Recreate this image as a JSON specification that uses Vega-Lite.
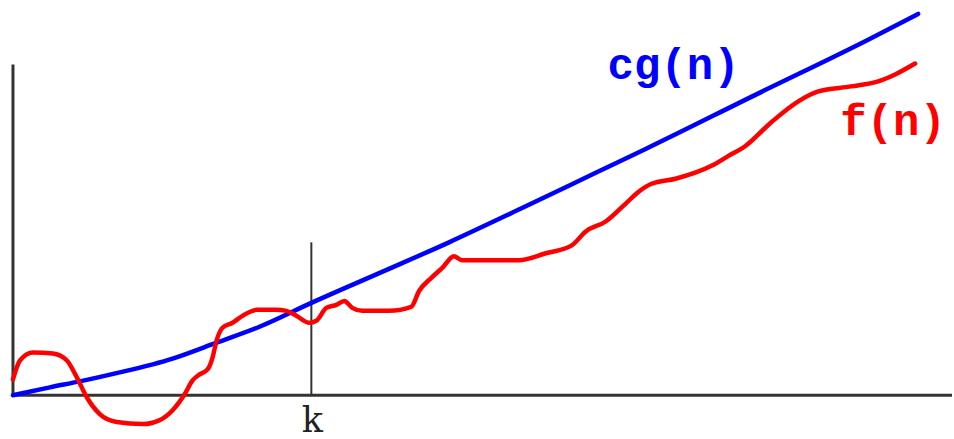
{
  "$schema": "https://vega.github.io/schema/vega-lite/v6.json",
  "width": 954,
  "height": 439,
  "autosize": {"type": "fit", "contains": "padding"},
  "padding": 0,
  "background": "white",
  "config": {"view": {"stroke": null}},
  "layer": [
    {
      "data": {"values": [
        {"x": 13, "y": 333, "x2": 13, "y2": 0},
        {"x": 13, "y": 0, "x2": 954, "y2": 0}
      ]},
      "mark": {"type": "rule", "stroke": "#333333", "strokeWidth": 3},
      "encoding": {
        "x": {"field": "x", "type": "quantitative", "scale": {"domain": [0, 954], "nice": false, "zero": false}, "axis": null},
        "y": {"field": "y", "type": "quantitative", "scale": {"domain": [-41, 398], "nice": false, "zero": false}, "axis": null},
        "x2": {"field": "x2"},
        "y2": {"field": "y2"}
      }
    },
    {
      "data": {"values": [{"x": 312, "y": 0, "y2": 154}]},
      "mark": {"type": "rule", "stroke": "#333333", "strokeWidth": 2},
      "encoding": {
        "x": {"field": "x", "type": "quantitative", "scale": {"domain": [0, 954], "nice": false, "zero": false}, "axis": null},
        "y": {"field": "y", "type": "quantitative", "scale": {"domain": [-41, 398], "nice": false, "zero": false}, "axis": null},
        "y2": {"field": "y2"}
      }
    },
    {
      "data": {"values": [
        {"series": "cg(n)", "x": 13, "y": 0},
        {"series": "cg(n)", "x": 50, "y": 8},
        {"series": "cg(n)", "x": 80, "y": 14},
        {"series": "cg(n)", "x": 120, "y": 23},
        {"series": "cg(n)", "x": 173, "y": 37},
        {"series": "cg(n)", "x": 217, "y": 53},
        {"series": "cg(n)", "x": 260, "y": 69},
        {"series": "cg(n)", "x": 312, "y": 93},
        {"series": "cg(n)", "x": 380, "y": 123},
        {"series": "cg(n)", "x": 450, "y": 154},
        {"series": "cg(n)", "x": 520, "y": 187},
        {"series": "cg(n)", "x": 597, "y": 224},
        {"series": "cg(n)", "x": 647, "y": 248},
        {"series": "cg(n)", "x": 760, "y": 304},
        {"series": "cg(n)", "x": 870, "y": 358},
        {"series": "cg(n)", "x": 920, "y": 384},
        {"series": "f(n)", "x": 13, "y": 16},
        {"series": "f(n)", "x": 20, "y": 35},
        {"series": "f(n)", "x": 33, "y": 43},
        {"series": "f(n)", "x": 53, "y": 42},
        {"series": "f(n)", "x": 67, "y": 35},
        {"series": "f(n)", "x": 77, "y": 18},
        {"series": "f(n)", "x": 87, "y": -2},
        {"series": "f(n)", "x": 100, "y": -19},
        {"series": "f(n)", "x": 117, "y": -27},
        {"series": "f(n)", "x": 143, "y": -29},
        {"series": "f(n)", "x": 160, "y": -25},
        {"series": "f(n)", "x": 173, "y": -15},
        {"series": "f(n)", "x": 185, "y": 1},
        {"series": "f(n)", "x": 193, "y": 15},
        {"series": "f(n)", "x": 200, "y": 21},
        {"series": "f(n)", "x": 208, "y": 26},
        {"series": "f(n)", "x": 213, "y": 38},
        {"series": "f(n)", "x": 217, "y": 55},
        {"series": "f(n)", "x": 223, "y": 68},
        {"series": "f(n)", "x": 233, "y": 73},
        {"series": "f(n)", "x": 243, "y": 80},
        {"series": "f(n)", "x": 257, "y": 86},
        {"series": "f(n)", "x": 277, "y": 86},
        {"series": "f(n)", "x": 287, "y": 85},
        {"series": "f(n)", "x": 297, "y": 80},
        {"series": "f(n)", "x": 310, "y": 73},
        {"series": "f(n)", "x": 317, "y": 75},
        {"series": "f(n)", "x": 327, "y": 88},
        {"series": "f(n)", "x": 337, "y": 91},
        {"series": "f(n)", "x": 345, "y": 95},
        {"series": "f(n)", "x": 353, "y": 88},
        {"series": "f(n)", "x": 363, "y": 85},
        {"series": "f(n)", "x": 390, "y": 85},
        {"series": "f(n)", "x": 412, "y": 89},
        {"series": "f(n)", "x": 420, "y": 105},
        {"series": "f(n)", "x": 432, "y": 118},
        {"series": "f(n)", "x": 443, "y": 128},
        {"series": "f(n)", "x": 455, "y": 140},
        {"series": "f(n)", "x": 463, "y": 136},
        {"series": "f(n)", "x": 520, "y": 136},
        {"series": "f(n)", "x": 547, "y": 143},
        {"series": "f(n)", "x": 573, "y": 151},
        {"series": "f(n)", "x": 587, "y": 165},
        {"series": "f(n)", "x": 607, "y": 175},
        {"series": "f(n)", "x": 627, "y": 193},
        {"series": "f(n)", "x": 640, "y": 205},
        {"series": "f(n)", "x": 653, "y": 213},
        {"series": "f(n)", "x": 677, "y": 218},
        {"series": "f(n)", "x": 713, "y": 231},
        {"series": "f(n)", "x": 730, "y": 241},
        {"series": "f(n)", "x": 747, "y": 251},
        {"series": "f(n)", "x": 773, "y": 275},
        {"series": "f(n)", "x": 800, "y": 296},
        {"series": "f(n)", "x": 820, "y": 306},
        {"series": "f(n)", "x": 853, "y": 311},
        {"series": "f(n)", "x": 880, "y": 316},
        {"series": "f(n)", "x": 897, "y": 323},
        {"series": "f(n)", "x": 917, "y": 334}
      ]},
      "mark": {"type": "line", "strokeWidth": 4.5, "interpolate": "monotone", "strokeCap": "round", "strokeJoin": "round"},
      "encoding": {
        "x": {"field": "x", "type": "quantitative", "scale": {"domain": [0, 954], "nice": false, "zero": false}, "axis": null},
        "y": {"field": "y", "type": "quantitative", "scale": {"domain": [-41, 398], "nice": false, "zero": false}, "axis": null},
        "color": {"field": "series", "type": "nominal", "scale": {"domain": ["cg(n)", "f(n)"], "range": ["#0000ff", "#ff0000"]}, "legend": null},
        "detail": {"field": "series"}
      }
    },
    {
      "data": {"values": [
        {"label": "cg(n)", "x": 675, "y": 318, "series": "cg(n)"},
        {"label": "f(n)", "x": 895, "y": 262, "series": "f(n)"}
      ]},
      "mark": {"type": "text", "font": "Liberation Mono", "fontWeight": "bold", "fontSize": 44, "align": "center", "baseline": "alphabetic"},
      "encoding": {
        "x": {"field": "x", "type": "quantitative", "scale": {"domain": [0, 954], "nice": false, "zero": false}, "axis": null},
        "y": {"field": "y", "type": "quantitative", "scale": {"domain": [-41, 398], "nice": false, "zero": false}, "axis": null},
        "text": {"field": "label"},
        "color": {"field": "series", "type": "nominal", "scale": {"domain": ["cg(n)", "f(n)"], "range": ["#0000ff", "#ff0000"]}, "legend": null}
      }
    },
    {
      "data": {"values": [{"label": "k", "x": 313, "y": -37}]},
      "mark": {"type": "text", "font": "DejaVu Serif", "fontSize": 35, "align": "center", "baseline": "alphabetic", "color": "#222222"},
      "encoding": {
        "x": {"field": "x", "type": "quantitative", "scale": {"domain": [0, 954], "nice": false, "zero": false}, "axis": null},
        "y": {"field": "y", "type": "quantitative", "scale": {"domain": [-41, 398], "nice": false, "zero": false}, "axis": null},
        "text": {"field": "label"}
      }
    }
  ]
}
